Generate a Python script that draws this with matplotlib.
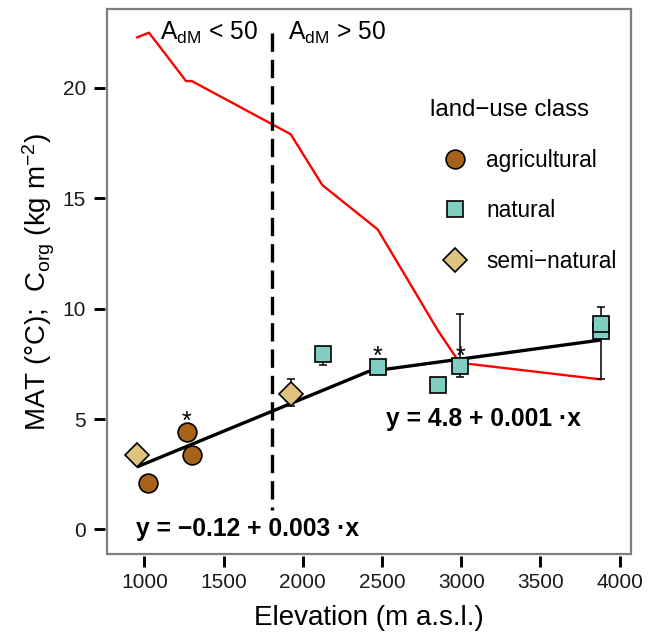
import matplotlib
matplotlib.use("Agg")
import matplotlib.pyplot as plt
from matplotlib.lines import Line2D
from matplotlib.patches import Rectangle

plt.rcParams["font.family"] = ["Liberation Sans", "DejaVu Sans"]
plt.rcParams["mathtext.default"] = "regular"

# ---------------- DATA ----------------

# MAT along the transect (red line)
mat_elev = [955, 1029, 1263, 1299, 1924, 2123, 2473, 2855, 2990, 3880]
mat_val = [22.29, 22.50, 20.31, 20.31, 17.90, 15.60, 13.59, 8.99, 7.55, 6.80]

# Corg by land-use class
agri_elev = [1025, 1267, 1302]
agri_corg = [2.09, 4.43, 3.37]

nat_elev = [2126, 2473, 2851, 2993, 3883, 3883]
nat_corg = [7.95, 7.37, 6.54, 7.40, 9.00, 9.31]

semi_elev = [955, 1924]
semi_corg = [3.37, 6.14]

# error bars (elevation, lower, upper)
err_elev = [1924, 2126, 2993, 3883]
err_low = [5.59, 7.45, 6.89, 6.80]
err_high = [6.80, 8.25, 9.75, 10.09]

# significance marks
star_elev = [1267, 2473, 2993]
star_corg = [4.43, 7.37, 7.40]

# segmented regression
fit_elev = [955, 2413, 3880]
fit_corg = [2.84, 7.15, 8.58]

BREAK_ELEV = 1804
BREAK_Y = (22.5, 0.9)   # drawn top -> bottom so the dash pattern starts at the top

COL_AGRI = "#A6611A"
COL_NAT = "#80CDC1"
COL_SEMI = "#DFC27D"

# ---------------- PLOT ----------------

fig = plt.figure(figsize=(6.6, 6.33), dpi=100)
ax = fig.add_axes([0.1621, 0.1248, 0.7947, 0.8602])

ax.plot(mat_elev, mat_val, color="red", linewidth=1.7, zorder=2)

ax.plot([BREAK_ELEV, BREAK_ELEV], BREAK_Y, color="black", linewidth=2.4,
        dashes=(5.5, 2.4), zorder=3)

ax.plot(fit_elev, fit_corg, color="black", linewidth=2.4, zorder=4,
        solid_capstyle="butt")

mid = [(l + h) / 2 for l, h in zip(err_low, err_high)]
half = [(h - l) / 2 for l, h in zip(err_low, err_high)]
ax.errorbar(err_elev, mid, yerr=[half, half], fmt="none", ecolor="black",
            elinewidth=1.1, capsize=3.2, capthick=1.1, zorder=5)

mk = dict(linestyle="none", markeredgecolor="black", markeredgewidth=1.2, zorder=6)
ax.plot(agri_elev, agri_corg, marker="o", markersize=13.5,
        markerfacecolor=COL_AGRI, **mk)
ax.plot(nat_elev, nat_corg, marker="s", markersize=12.2,
        markerfacecolor=COL_NAT, **mk)
ax.plot(semi_elev, semi_corg, marker="D", markersize=12.0,
        markerfacecolor=COL_SEMI, **mk)

for x, y in zip(star_elev, star_corg):
    ax.text(x, y + 0.12, "*", ha="center", va="baseline", fontsize=18, zorder=7)

ax.text(1098, 22.17, "A$_{dM}$ < 50", ha="left", va="baseline", fontsize=17.7)
ax.text(1905, 22.17, "A$_{dM}$ > 50", ha="left", va="baseline", fontsize=17.7)

ax.text(1650, -0.30, "y = \u22120.12 + 0.003 \u00b7x", ha="center", va="baseline",
        fontsize=17.7, fontweight="bold")
ax.text(3139, 4.69, "y = 4.8 + 0.001 \u00b7x", ha="center", va="baseline",
        fontsize=17.7, fontweight="bold")

ax.set_xlim(764, 4075)
ax.set_ylim(-1.11, 23.55)
ax.set_xticks([1000, 1500, 2000, 2500, 3000, 3500, 4000])
ax.set_yticks([0, 5, 10, 15, 20])

# panel border in grey, ticks slightly detached like ggplot
for side in ["left", "right", "top", "bottom"]:
    ax.spines[side].set_visible(False)
ax.spines["left"].set_position(("outward", 1.5))
ax.spines["bottom"].set_position(("outward", 1.5))
ax.add_patch(Rectangle((0, 0), 1, 1, transform=ax.transAxes, fill=False,
                       edgecolor="#7f7f7f", linewidth=1.6, clip_on=False, zorder=10))
ax.tick_params(axis="both", length=8.2, width=2.1, color="black",
               labelsize=15, labelcolor="#1a1a1a")
ax.tick_params(axis="x", pad=4)
ax.tick_params(axis="y", pad=5.5)

ax.set_xlabel("Elevation (m a.s.l.)", fontsize=20, labelpad=9)
ax.set_ylabel("MAT (\u00b0C);  C$_{org}$ (kg m$^{\u22122}$)", fontsize=20, labelpad=4)

handles = [
    Line2D([], [], marker="o", markersize=13.5, markerfacecolor=COL_AGRI, **mk),
    Line2D([], [], marker="s", markersize=12.2, markerfacecolor=COL_NAT, **mk),
    Line2D([], [], marker="D", markersize=12.0, markerfacecolor=COL_SEMI, **mk),
]
leg = ax.legend(handles, ["agricultural", "natural", "semi\u2212natural"],
                title="land\u2212use class", fontsize=16.3, title_fontsize=17.3,
                loc="upper left", bbox_to_anchor=(430 / 660, 1 - 99 / 633),
                bbox_transform=fig.transFigure, frameon=False, borderpad=0,
                borderaxespad=0, labelspacing=1.22, handlelength=2.2,
                handletextpad=0.28, alignment="left")

fig.savefig("out.png", dpi=100)
